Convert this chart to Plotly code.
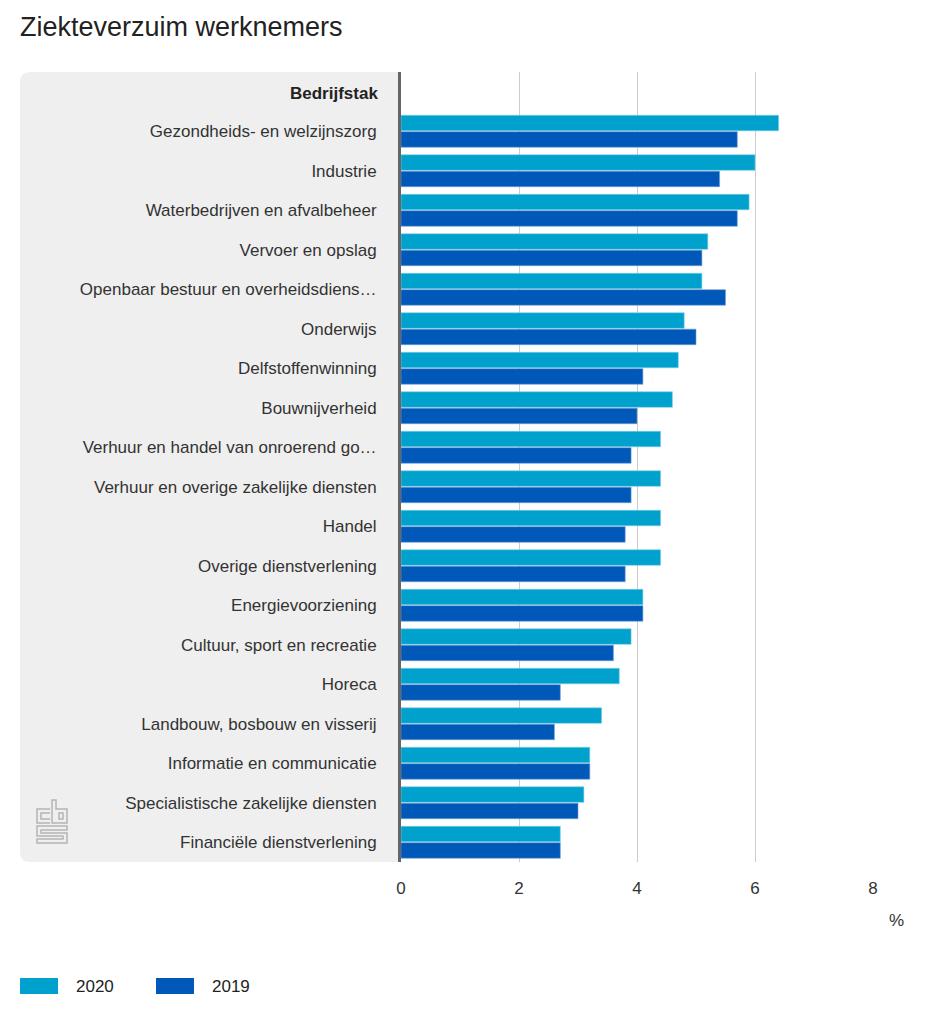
import plotly.graph_objects as go

categories = [
    "Gezondheids- en welzijnszorg",
    "Industrie",
    "Waterbedrijven en afvalbeheer",
    "Vervoer en opslag",
    "Openbaar bestuur en overheidsdiens…",
    "Onderwijs",
    "Delfstoffenwinning",
    "Bouwnijverheid",
    "Verhuur en handel van onroerend go…",
    "Verhuur en overige zakelijke diensten",
    "Handel",
    "Overige dienstverlening",
    "Energievoorziening",
    "Cultuur, sport en recreatie",
    "Horeca",
    "Landbouw, bosbouw en visserij",
    "Informatie en communicatie",
    "Specialistische zakelijke diensten",
    "Financiële dienstverlening",
]
values_2020 = [6.4, 6.0, 5.9, 5.2, 5.1, 4.8, 4.7, 4.6, 4.4, 4.4, 4.4, 4.4, 4.1, 3.9, 3.7, 3.4, 3.2, 3.1, 2.7]
values_2019 = [5.7, 5.4, 5.7, 5.1, 5.5, 5.0, 4.1, 4.0, 3.9, 3.9, 3.8, 3.8, 4.1, 3.6, 2.7, 2.6, 3.2, 3.0, 2.7]
series_names = ["2020", "2019"]
tick_values = [0, 2, 4, 6, 8]

COLOR_2020 = "#00a1cd"
COLOR_2019 = "#0058b8"
colors = [COLOR_2020, COLOR_2019]
FONT = "Liberation Sans, Arial, sans-serif"

W, H = 945, 1024
ML, MR, MT, MB = 401, 72, 72, 162
pw = W - ML - MR
ph = H - MT - MB


def px(x):
    return (x - ML) / pw


def py(y):
    return (MT + ph - y) / ph


fig = go.Figure()
fig.add_trace(go.Bar(
    y=categories, x=values_2020, name=series_names[0], orientation="h",
    marker=dict(color=COLOR_2020, line=dict(color="#7fd0e6", width=0.6)),
    hovertemplate="%{y}: %{x}%<extra>2020</extra>",
))
fig.add_trace(go.Bar(
    y=categories, x=values_2019, name=series_names[1], orientation="h",
    marker=dict(color=COLOR_2019, line=dict(color="#6f9fd8", width=0.6)),
    hovertemplate="%{y}: %{x}%<extra>2019</extra>",
))

# gray rounded panel behind category labels
x0 = px(20)
rx = 10 / pw
ry = 10 / ph
path = (
    f"M 0,0 L {x0 + rx},0 Q {x0},0 {x0},{ry} "
    f"L {x0},{1 - ry} Q {x0},1 {x0 + rx},1 L 0,1 Z"
)
fig.add_shape(type="path", path=path, xref="paper", yref="paper",
              fillcolor="#efefef", line=dict(width=0), layer="below")


# simplified outlined CBS logo
def poly(points, closed=True):
    s = "M " + " L ".join(f"{px(a)},{py(b)}" for a, b in points)
    return s + (" Z" if closed else "")


logo_paths = [
    poly([(50, 809), (37, 809), (37, 823), (50, 823)], closed=False),
    poly([(50, 813), (41, 813), (41, 819), (50, 819)], closed=False),
    poly([(52, 800), (56, 800), (56, 809), (67, 809), (67, 823), (52, 823)]),
    poly([(59, 813), (63, 813), (63, 819), (59, 819)]),
    poly([(67, 826), (37, 826), (37, 836), (63, 836), (63, 839), (37, 839),
          (37, 843), (67, 843), (67, 833), (41, 833), (41, 830), (67, 830)]),
]
for p in logo_paths:
    fig.add_shape(type="path", path=p, xref="paper", yref="paper",
                  line=dict(color="#b5b5b5", width=1.5))

n = len(categories)
fig.add_annotation(
    text="<b>Bedrijfstak</b>", xref="paper", yref="paper",
    x=0, y=1 - 0.5 / (n + 1), xanchor="right", yanchor="middle",
    xshift=-21, yshift=-2, showarrow=False,
    font=dict(family=FONT, size=17, color="#222"),
)
fig.add_annotation(
    text="%", xref="paper", yref="paper", x=1, y=0,
    xanchor="center", yanchor="middle", xshift=23, yshift=-58,
    showarrow=False, font=dict(family=FONT, size=17, color="#333"),
)

# custom legend (wide swatches) at the bottom
legend_x = [20, 156]
for name, col, lx in zip(series_names, colors, legend_x):
    fig.add_shape(type="rect", xref="paper", yref="paper",
                  x0=px(lx), x1=px(lx + 38), y0=py(994), y1=py(978),
                  fillcolor=col, line=dict(width=0))
    fig.add_annotation(text=name, xref="paper", yref="paper",
                       x=px(lx + 54), y=py(986),
                       xanchor="left", yanchor="middle", showarrow=False,
                       font=dict(family=FONT, size=17, color="#222"))

fig.update_layout(
    width=W, height=H,
    margin=dict(l=ML, r=MR, t=MT, b=MB, autoexpand=False),
    paper_bgcolor="white", plot_bgcolor="rgba(0,0,0,0)",
    font=dict(family=FONT, size=17, color="#333"),
    title=dict(text="Ziekteverzuim werknemers", x=20 / W, xanchor="left",
               y=1 - 27 / H, yanchor="middle",
               font=dict(family=FONT, size=27, color="#222")),
    barmode="group", bargap=0.17, bargroupgap=0.05,
    showlegend=False,
    xaxis=dict(range=[0, 8], tickvals=tick_values, showgrid=True,
               gridcolor="#cccccc", gridwidth=1, zeroline=False,
               showline=False, ticks="", ticklabelstandoff=14,
               tickfont=dict(family=FONT, size=17, color="#333"),
               fixedrange=True),
    yaxis=dict(type="category", categoryorder="array", categoryarray=categories,
               range=[n - 0.5, -1.5], showgrid=False, zeroline=False,
               showline=True, linecolor="#666", linewidth=3, ticks="",
               ticklabelstandoff=18,
               tickfont=dict(family=FONT, size=17, color="#333"),
               fixedrange=True),
)

fig.write_html("out.html", config={"displayModeBar": False},
               post_script="document.body.style.margin='0';")
